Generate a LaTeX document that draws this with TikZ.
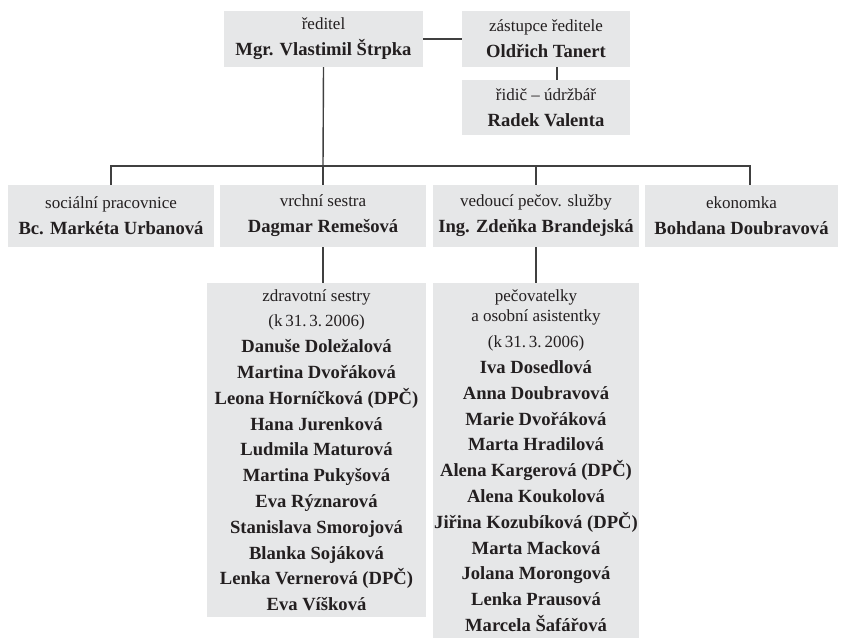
\documentclass[tikz,border=0pt]{standalone}
\usepackage{fontspec}
\setmainfont{Liberation Serif}
\usetikzlibrary{positioning}
\definecolor{boxgray}{HTML}{E6E7E8}
\definecolor{linegray}{HTML}{404040}
\definecolor{textdark}{HTML}{231F20}
\newcommand{\jmeno}[1]{{\fontsize{18.6}{25.8}\bfseries #1}}

\begin{document}
\begin{tikzpicture}[x=1pt,y=-1pt,
	box/.style={fill=boxgray, text=textdark, align=center, inner xsep=0pt, inner ysep=0pt, font=\fontsize{17}{25.8}\selectfont},
	spoj/.style={draw=linegray, line width=1.4pt}]
	\useasboundingbox (0,0) rectangle (843,637);
	% vedeni
	\node[box, minimum width=199pt, minimum height=56pt] (reditel) at (323.5,39) {ředitel\\\jmeno{Mgr. Vlastimil Štrpka}};
	\node[box, minimum width=168pt, minimum height=56pt] (zastupce) at (546,39) {zástupce ředitele\\\jmeno{Oldřich Tanert}};
	\node[box, minimum width=168pt, minimum height=55pt] (ridic) at (546,107.5) {řidič -- údržbář\\\jmeno{Radek Valenta}};
	% druha rada
	\node[box, minimum width=206pt, minimum height=62pt] (socialni) at (111,216) {sociální pracovnice\\\jmeno{Bc. Markéta Urbanová}};
	\node[box, minimum width=206pt, minimum height=62pt] (sestra) at (323,216) {vrchní sestra\\\jmeno{Dagmar Remešová}};
	\node[box, minimum width=206pt, minimum height=62pt] (vedouci) at (536,216) {vedoucí pečov. služby\\\jmeno{Ing. Zdeňka Brandejská}};
	\node[box, minimum width=193pt, minimum height=62pt] (ekonomka) at (741.5,216) {ekonomka\\\jmeno{Bohdana Doubravová}};
	% seznamy
	\node[box, minimum width=219pt, inner ysep=6pt, anchor=north] (zdravotni) at (316.5,283) {zdravotní sestry\\(k\,31.\,3.\,2006)\\
		\jmeno{Danuše Doležalová}\\\jmeno{Martina Dvořáková}\\\jmeno{Leona Horníčková (DPČ)}\\\jmeno{Hana Jurenková}\\
		\jmeno{Ludmila Maturová}\\\jmeno{Martina Pukyšová}\\\jmeno{Eva Rýznarová}\\\jmeno{Stanislava Smorojová}\\
		\jmeno{Blanka Sojáková}\\\jmeno{Lenka Vernerová (DPČ)}\\\jmeno{Eva Víšková}};
	\node[box, minimum width=206pt, inner ysep=6pt, anchor=north] (pecovatelky) at (536,283) {pečovatelky\\[-5pt]a osobní asistentky\\(k\,31.\,3.\,2006)\\
		\jmeno{Iva Dosedlová}\\\jmeno{Anna Doubravová}\\\jmeno{Marie Dvořáková}\\\jmeno{Marta Hradilová}\\
		\jmeno{Alena Kargerová (DPČ)}\\\jmeno{Alena Koukolová}\\\jmeno{Jiřina Kozubíková (DPČ)}\\\jmeno{Marta Macková}\\
		\jmeno{Jolana Morongová}\\\jmeno{Lenka Prausová}\\\jmeno{Marcela Šafářová}};
	% spoje
	\coordinate (sbernice) at (323,166);
	\draw[spoj] (reditel.east) -- (zastupce.west);
	\draw[spoj] ([xshift=11pt]zastupce.south) -- ([xshift=11pt]ridic.north);
	\draw[spoj] (reditel.south) -- (sbernice);
	\draw[spoj] (socialni.north) |- (sbernice) -| ([xshift=8.5pt]ekonomka.north);
	\draw[spoj] (sestra.north) -- (sestra.north |- sbernice);
	\draw[spoj] (vedouci.north) -- (vedouci.north |- sbernice);
	\draw[spoj] (sestra.south) -- (sestra.south |- zdravotni.north);
	\draw[spoj] (vedouci.south) -- (vedouci.south |- pecovatelky.north);
\end{tikzpicture}
\end{document}
